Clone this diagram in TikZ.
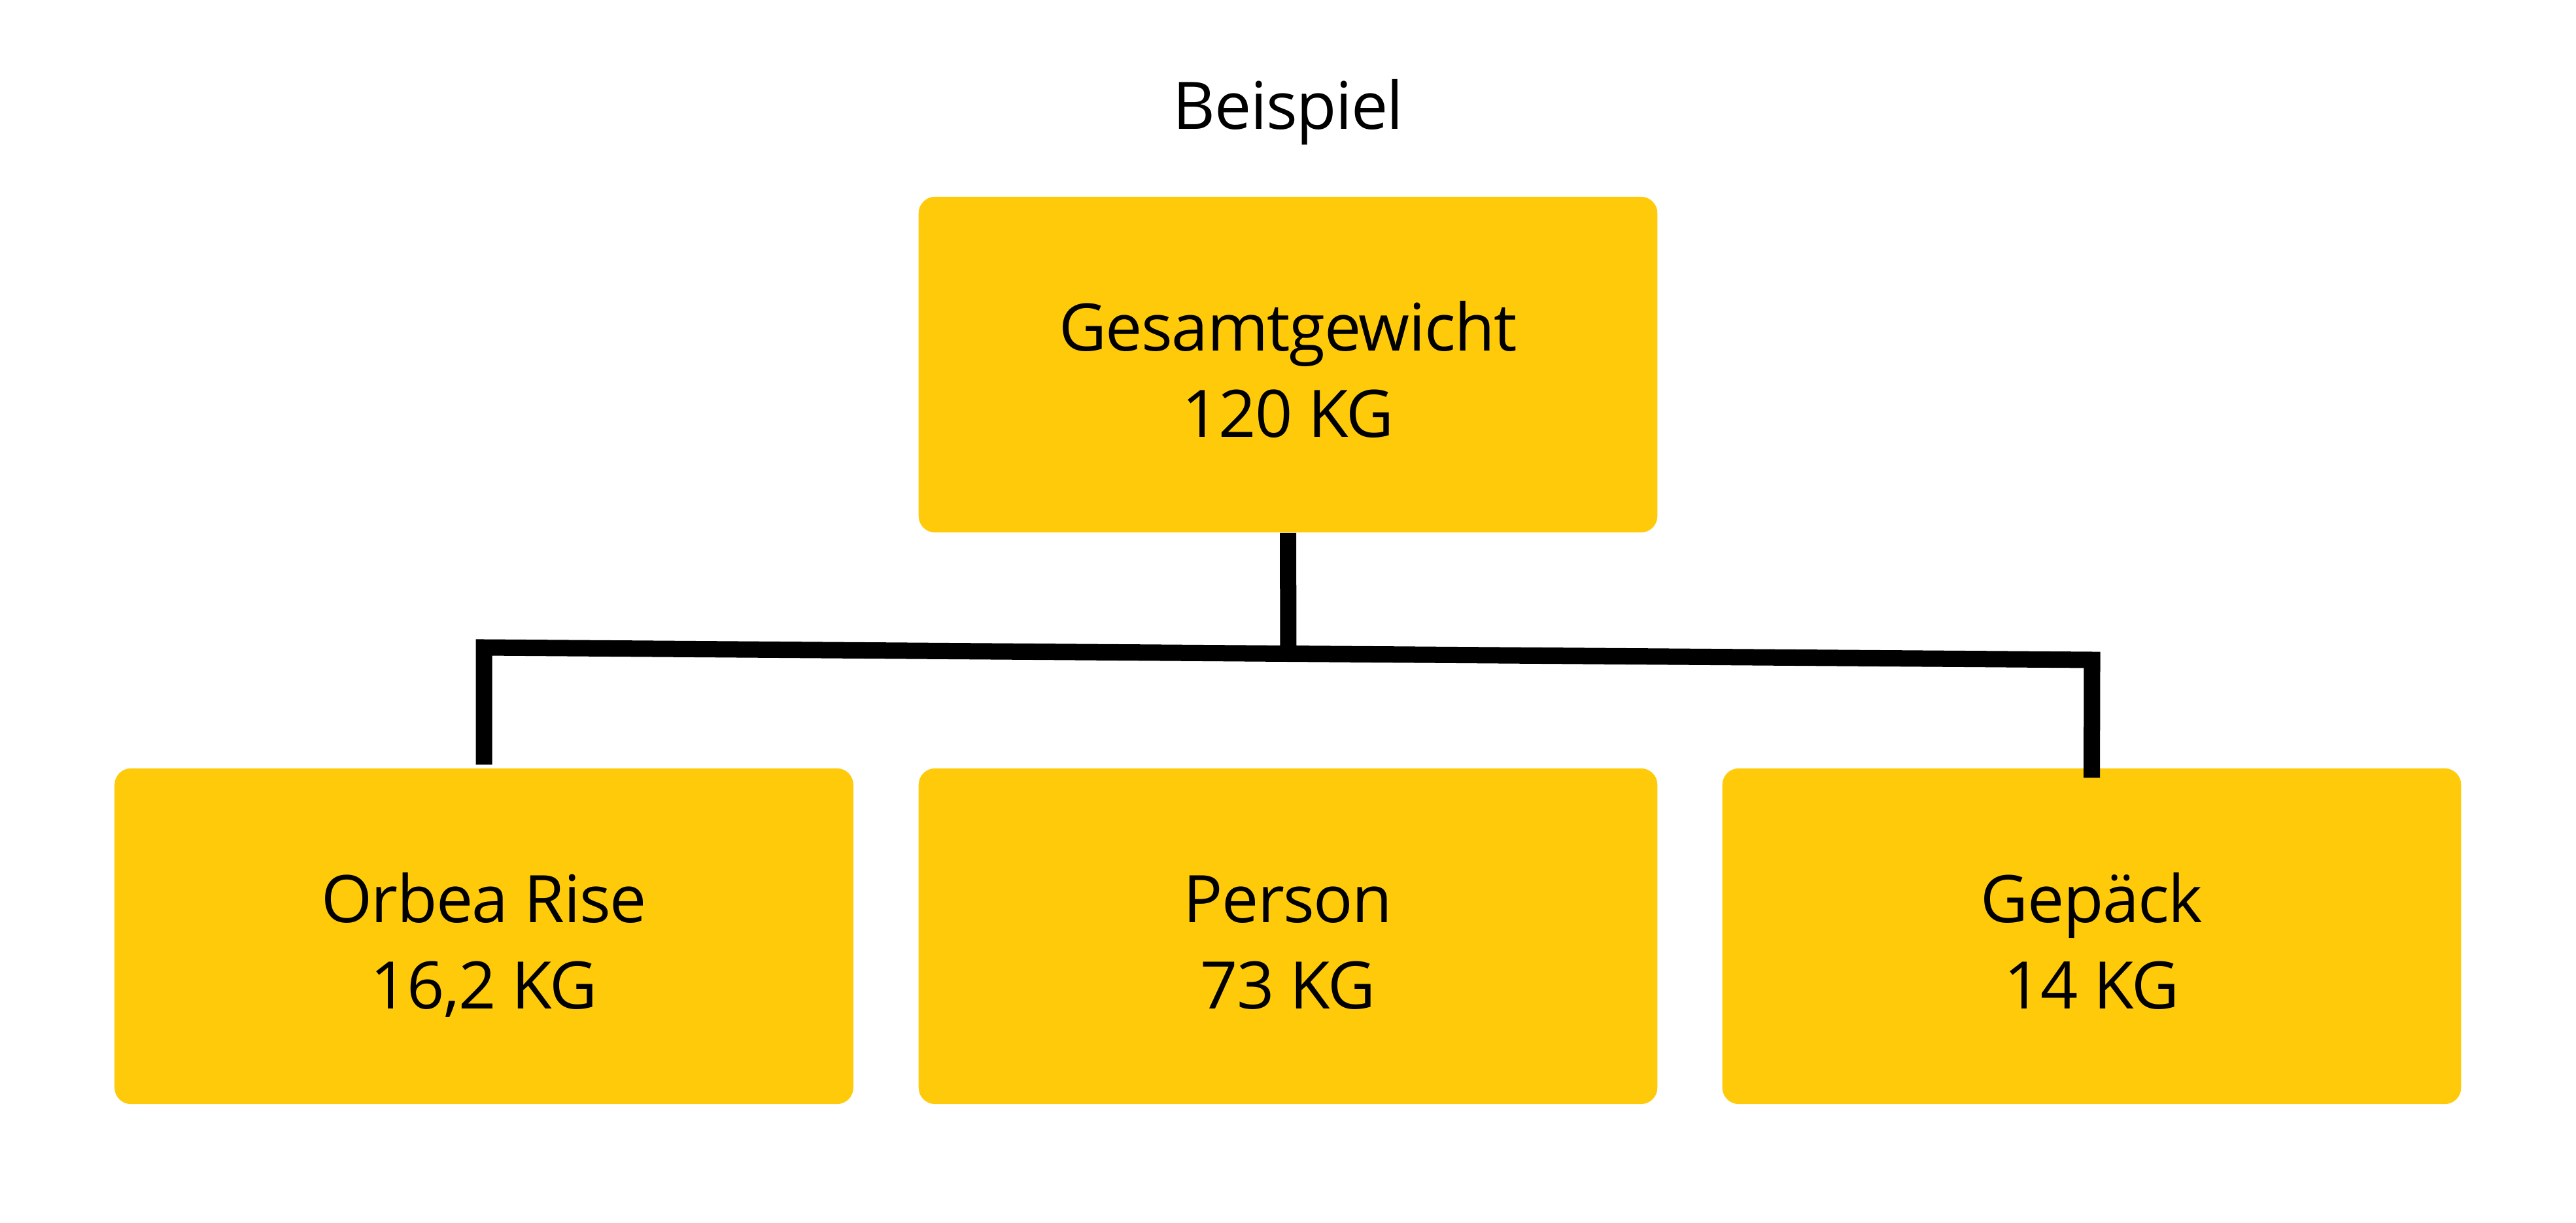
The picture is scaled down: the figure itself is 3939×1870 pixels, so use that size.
\documentclass[tikz,border=0pt]{standalone}
\usepackage{fontspec}
\setmainfont[LetterSpace=-1.5]{Open Sans}
\definecolor{boxyellow}{RGB}{254,202,10}
\newcommand\kgtext[2]{\rule{0pt}{1.03cm}#1\\#2\vphantom{,}}
\begin{document}
\begin{tikzpicture}[x=0.01cm,y=-0.01cm,
  kgbox/.style={fill=boxyellow, draw=none, rounded corners=0.25cm,
    minimum width=11.29cm, minimum height=5.13cm, inner sep=0pt,
    align=center, font=\fontsize{28.5}{37.6}\selectfont},
  conn/.style={draw=black, line width=0.25cm, line join=miter},
  titletext/.style={font=\fontsize{28.5}{37.6}\selectfont, inner sep=0pt, anchor=base}]
\useasboundingbox (0,0) rectangle (3939,1870);
\node[titletext] (title) at (1970,198) {Beispiel};
\node[kgbox] (top) at (1969.5,557.5) {\kgtext{Gesamtgewicht}{120 KG}};
\node[kgbox] (b1) at (740,1431.5) {\kgtext{Orbea Rise}{16,2 KG}};
\node[kgbox] (b2) at (1969.5,1431.5) {\kgtext{Person}{73 KG}};
\node[kgbox] (b3) at (3198.5,1431.5) {\kgtext{Gepäck}{14 KG}};
\coordinate (lt) at (740,990);
\coordinate (rt) at (3199,1009);
\coordinate (sm) at (1970,999);
\draw[conn] (top.south) -- (sm);
\draw[conn] ([yshift=0.05cm]b1.north) -- (lt) -- (rt) -- ([yshift=-0.15cm]b3.north);
\end{tikzpicture}
\end{document}
